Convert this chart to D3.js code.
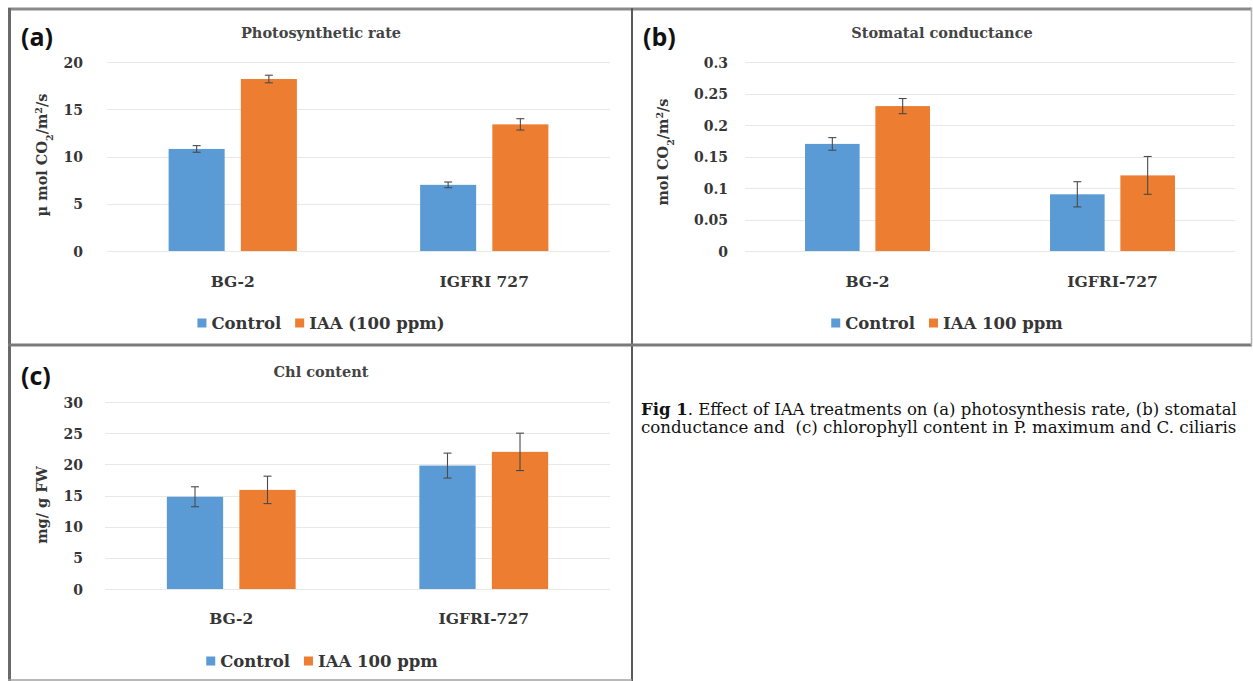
<!DOCTYPE html>
<html>
<head>
<meta charset="utf-8">
<script src="https://cdn.jsdelivr.net/npm/d3@7"></script>
<style>
  html, body { margin: 0; padding: 0; background: #fff; }
  svg { display: block; }
</style>
</head>
<body>
<svg id="chart" width="1253" height="681"></svg>
<script>
// ---------------- DATA ----------------
const seriesNamesA = ["Control", "IAA (100 ppm)"];
const seriesNamesBC = ["Control", "IAA 100 ppm"];

const categoriesA = ["BG-2", "IGFRI 727"];
const categoriesB = ["BG-2", "IGFRI-727"];
const categoriesC = ["BG-2", "IGFRI-727"];

// (a) Photosynthetic rate
const photoControl = [10.8, 7.0];
const photoControlErr = [0.35, 0.3];
const photoIAA = [18.2, 13.4];
const photoIAAErr = [0.4, 0.6];
const ticksA = [0, 5, 10, 15, 20];

// (b) Stomatal conductance
const stomControl = [0.17, 0.09];
const stomControlErr = [0.01, 0.02];
const stomIAA = [0.23, 0.12];
const stomIAAErr = [0.012, 0.03];
const ticksB = [0, 0.05, 0.1, 0.15, 0.2, 0.25, 0.3];
const tickLabelsB = ["0", "0.05", "0.1", "0.15", "0.2", "0.25", "0.3"];

// (c) Chl content
const chlControl = [14.8, 19.8];
const chlControlErr = [1.6, 2.0];
const chlIAA = [15.9, 22.0];
const chlIAAErr = [2.2, 3.0];
const ticksC = [0, 5, 10, 15, 20, 25, 30];

const captionLine1Bold = "Fig 1";
const captionLine1Rest = ". Effect of IAA treatments on (a) photosynthesis rate, (b) stomatal";
const captionLine2 = "conductance and  (c) chlorophyll content in P. maximum and C. ciliaris";

// ---------------- STYLE ----------------
const BLUE = "#5B9BD5";
const ORANGE = "#ED7D31";
const TXT = "#363636";
const SERIF = "'DejaVu Serif', 'Liberation Serif', serif";
const SANS = "'Open Sans', 'Liberation Sans', sans-serif";

const svg = d3.select("#chart");

// ---------------- PANEL FRAMES ----------------
const frame = svg.append("g").attr("fill", "none");
frame.append("line").attr("x1", 8).attr("x2", 1252).attr("y1", 9).attr("y2", 9)
  .attr("stroke", "#8a8a8a").attr("stroke-width", 3);
frame.append("line").attr("x1", 9.5).attr("x2", 9.5).attr("y1", 8).attr("y2", 681)
  .attr("stroke", "#6a6a6a").attr("stroke-width", 3);
frame.append("line").attr("x1", 632).attr("x2", 632).attr("y1", 8).attr("y2", 681)
  .attr("stroke", "#5a5a5a").attr("stroke-width", 2);
frame.append("line").attr("x1", 8).attr("x2", 1252).attr("y1", 345).attr("y2", 345)
  .attr("stroke", "#7a7a7a").attr("stroke-width", 3);
frame.append("line").attr("x1", 1251.5).attr("x2", 1251.5).attr("y1", 8).attr("y2", 346)
  .attr("stroke", "#b0b0b0").attr("stroke-width", 1.5);
frame.append("line").attr("x1", 8).attr("x2", 632).attr("y1", 680).attr("y2", 680)
  .attr("stroke", "#a0a0a0").attr("stroke-width", 1.5);

// ---------------- PANEL DRAW ----------------
function drawPanel(cfg) {
  const g = svg.append("g");
  const y = d3.scaleLinear().domain(cfg.yDomain).range([cfg.y0, cfg.y1]);
  const x0 = d3.scaleBand().domain(cfg.categories).range([cfg.xL, cfg.xR]);
  const groupW = x0.bandwidth() * 0.51;
  const x1 = d3.scaleBand().domain(cfg.seriesNames).range([-groupW / 2, groupW / 2])
    .paddingInner(0.224).paddingOuter(0);

  // gridlines
  g.append("g").selectAll("line").data(cfg.ticks).join("line")
    .attr("x1", cfg.xL).attr("x2", cfg.xR)
    .attr("y1", d => Math.round(y(d)) + 0.5).attr("y2", d => Math.round(y(d)) + 0.5)
    .attr("stroke", "#e8e8e8").attr("stroke-width", 1.2);

  // y axis labels via d3 axis
  const yAxis = d3.axisLeft(y).tickValues(cfg.ticks).tickSize(0).tickPadding(0)
    .tickFormat((d, i) => cfg.tickLabels ? cfg.tickLabels[i] : String(d));
  const ax = g.append("g").attr("transform", `translate(${cfg.tickX},0)`).call(yAxis);
  ax.select(".domain").remove();
  ax.selectAll("text").attr("font-family", SERIF).attr("font-weight", "bold")
    .attr("font-size", 14).attr("fill", TXT).attr("dy", "0.36em");

  // bars
  const rows = cfg.categories.map((c, i) => ({
    cat: c,
    vals: cfg.seriesNames.map((s, j) => ({ s, j, v: cfg.values[j][i], e: cfg.errors[j][i] }))
  }));
  const colors = [BLUE, ORANGE];
  const grp = g.append("g").selectAll("g").data(rows).join("g")
    .attr("transform", d => `translate(${x0(d.cat) + x0.bandwidth() / 2},0)`);
  grp.selectAll("rect").data(d => d.vals).join("rect")
    .attr("x", d => x1(d.s)).attr("width", x1.bandwidth())
    .attr("y", d => y(d.v)).attr("height", d => y(0) - y(d.v))
    .attr("fill", d => colors[d.j]);

  // error bars
  const eb = grp.selectAll("g.eb").data(d => d.vals).join("g").attr("class", "eb")
    .attr("stroke", "#4a4a4a").attr("stroke-width", 1.1);
  eb.append("line")
    .attr("x1", d => x1(d.s) + x1.bandwidth() / 2).attr("x2", d => x1(d.s) + x1.bandwidth() / 2)
    .attr("y1", d => y(d.v + d.e)).attr("y2", d => y(d.v - d.e));
  eb.append("line")
    .attr("x1", d => x1(d.s) + x1.bandwidth() / 2 - 4).attr("x2", d => x1(d.s) + x1.bandwidth() / 2 + 4)
    .attr("y1", d => y(d.v + d.e)).attr("y2", d => y(d.v + d.e));
  eb.append("line")
    .attr("x1", d => x1(d.s) + x1.bandwidth() / 2 - 4).attr("x2", d => x1(d.s) + x1.bandwidth() / 2 + 4)
    .attr("y1", d => y(d.v - d.e)).attr("y2", d => y(d.v - d.e));

  // category labels via d3 axis
  const xAxis = d3.axisBottom(x0).tickSize(0).tickPadding(0);
  const xa = g.append("g").attr("transform", `translate(0,${cfg.catY})`).call(xAxis);
  xa.select(".domain").remove();
  xa.selectAll("text").attr("font-family", SERIF).attr("font-weight", "bold")
    .attr("font-size", 15.5).attr("fill", TXT).attr("dy", "0.36em");

  // title
  g.append("text").attr("x", cfg.titleX).attr("y", cfg.titleY).attr("text-anchor", "middle")
    .attr("font-family", SERIF).attr("font-weight", "bold").attr("font-size", 14.5)
    .attr("fill", "#444").text(cfg.title);

  // panel letter
  g.append("text").attr("x", cfg.letterX).attr("y", cfg.letterY)
    .attr("font-family", SANS).attr("font-weight", "bold").attr("font-size", 25)
    .attr("fill", "#111").text(cfg.letter);

  // y title
  const yt = g.append("text")
    .attr("transform", `translate(${cfg.yTitleX},${cfg.yTitleY}) rotate(-90)`)
    .attr("text-anchor", "middle").attr("font-family", SERIF).attr("font-weight", "bold")
    .attr("font-size", 14.5).attr("fill", TXT);
  cfg.yTitleParts.forEach(p => {
    const t = yt.append("tspan").text(p.t);
    if (p.sub) t.attr("font-size", 9.5).attr("baseline-shift", "sub");
    if (p.sup) t.attr("font-size", 9.5).attr("baseline-shift", "super");
  });

  // legend
  const lg = g.append("g");
  let cx = 0;
  cfg.seriesNames.forEach((s, j) => {
    lg.append("rect").attr("x", cx).attr("y", -4.5).attr("width", 9).attr("height", 9).attr("fill", colors[j]);
    const t = lg.append("text").attr("x", cx + 14).attr("y", 0).attr("dy", "0.36em")
      .attr("font-family", SERIF).attr("font-weight", "bold").attr("font-size", 16.5)
      .attr("fill", TXT).text(s);
    cx += 14 + t.node().getComputedTextLength() + 14;
  });
  const total = cx - 14;
  lg.attr("transform", `translate(${cfg.legendCX - total / 2},${cfg.legendY})`);
}

drawPanel({
  categories: categoriesA, seriesNames: seriesNamesA,
  values: [photoControl, photoIAA], errors: [photoControlErr, photoIAAErr],
  yDomain: [0, 20], ticks: ticksA, y0: 251, y1: 62, xL: 107, xR: 610, tickX: 83,
  catY: 281, title: "Photosynthetic rate", titleX: 321, titleY: 38,
  letter: "(a)", letterX: 21, letterY: 46,
  yTitleX: 47, yTitleY: 155,
  yTitleParts: [{ t: "µ mol CO" }, { t: "2", sub: true }, { t: "/m" }, { t: "2", sup: true }, { t: "/s" }],
  legendCX: 321, legendY: 323
});

drawPanel({
  categories: categoriesB, seriesNames: seriesNamesBC,
  values: [stomControl, stomIAA], errors: [stomControlErr, stomIAAErr],
  yDomain: [0, 0.3], ticks: ticksB, tickLabels: tickLabelsB, y0: 251, y1: 62, xL: 745, xR: 1235, tickX: 728,
  catY: 281, title: "Stomatal conductance", titleX: 942, titleY: 38,
  letter: "(b)", letterX: 643, letterY: 46,
  yTitleX: 668, yTitleY: 152,
  yTitleParts: [{ t: "mol CO" }, { t: "2", sub: true }, { t: "/m" }, { t: "2", sup: true }, { t: "/s" }],
  legendCX: 947, legendY: 323
});

drawPanel({
  categories: categoriesC, seriesNames: seriesNamesBC,
  values: [chlControl, chlIAA], errors: [chlControlErr, chlIAAErr],
  yDomain: [0, 30], ticks: ticksC, y0: 589, y1: 402, xL: 105, xR: 610, tickX: 83,
  catY: 618, title: "Chl content", titleX: 321, titleY: 377,
  letter: "(c)", letterX: 21, letterY: 385,
  yTitleX: 47, yTitleY: 505,
  yTitleParts: [{ t: "mg/ g FW" }],
  legendCX: 322, legendY: 661
});

// ---------------- CAPTION ----------------
const cap = svg.append("g").attr("font-family", SERIF).attr("fill", "#111");
const l1 = cap.append("text").attr("x", 641).attr("y", 415).attr("font-size", 13);
l1.append("tspan").attr("font-weight", "bold").text(captionLine1Bold);
l1.append("tspan").text(captionLine1Rest);
const l2 = cap.append("text").attr("x", 641).attr("y", 433).attr("font-size", 13)
  .attr("xml:space", "preserve").style("white-space", "pre").text(captionLine2);
// fit caption width to ~596px
[l1, l2].forEach(t => {
  const w = t.node().getComputedTextLength();
  t.attr("font-size", 13 * 596 / w);
});
</script>
</body>
</html>
